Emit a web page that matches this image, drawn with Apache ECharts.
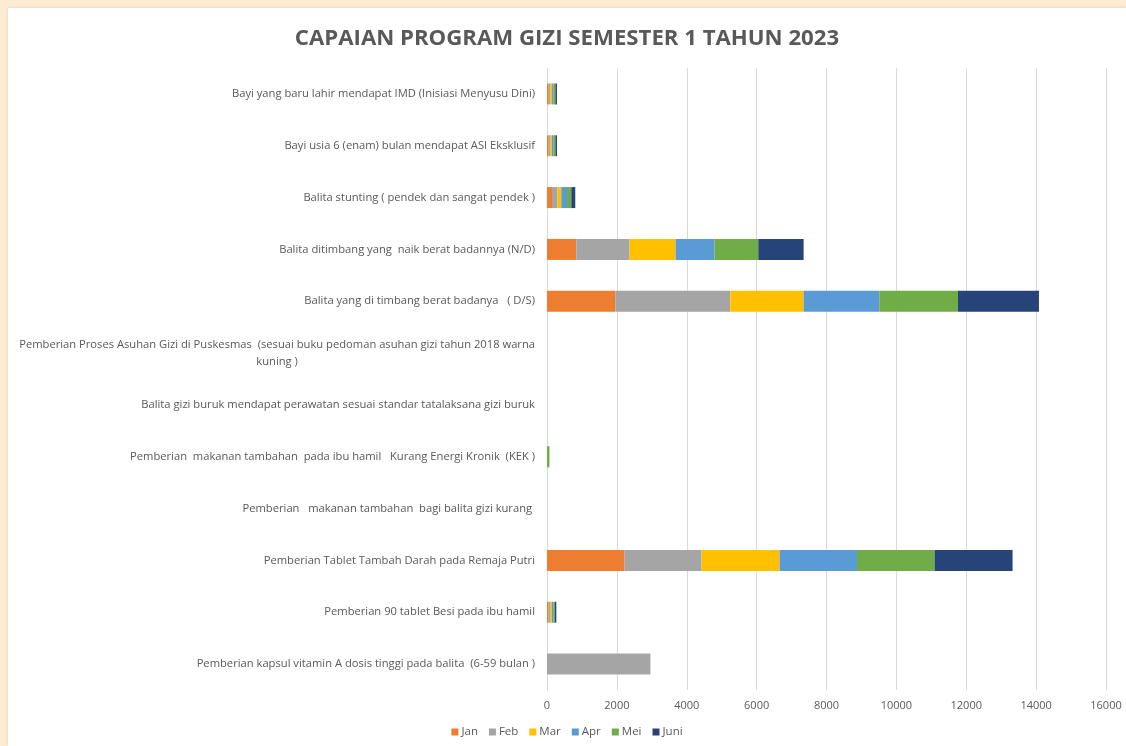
<!DOCTYPE html>
<html>
<head>
<meta charset="utf-8">
<script src="https://cdn.jsdelivr.net/npm/echarts@6/dist/echarts.min.js"></script>
<style>
  html, body { margin: 0; padding: 0; background: #fdecd3; }
  #chart {
    position: absolute;
    left: 8px;
    top: 8px;
    width: 1118px;
    height: 738px;
    background: #ffffff;
    box-shadow: 0 0 3px rgba(0, 0, 0, 0.12);
  }
</style>
</head>
<body>
<div id="chart"></div>
<script>
// kategori dari atas ke bawah
const categories = [
  'Bayi yang baru lahir mendapat IMD (Inisiasi Menyusu Dini)',
  'Bayi usia 6 (enam) bulan mendapat ASI Eksklusif',
  'Balita stunting ( pendek dan sangat pendek )',
  'Balita ditimbang yang  naik berat badannya (N/D)',
  'Balita yang di timbang berat badanya   ( D/S)',
  'Pemberian Proses Asuhan Gizi di Puskesmas  (sesuai buku pedoman asuhan gizi tahun 2018 warna\nkuning )',
  'Balita gizi buruk mendapat perawatan sesuai standar tatalaksana gizi buruk',
  'Pemberian  makanan tambahan  pada ibu hamil   Kurang Energi Kronik  (KEK )',
  'Pemberian   makanan tambahan  bagi balita gizi kurang ',
  'Pemberian Tablet Tambah Darah pada Remaja Putri',
  'Pemberian 90 tablet Besi pada ibu hamil',
  'Pemberian kapsul vitamin A dosis tinggi pada balita  (6-59 bulan )',
]

const months = ['Jan', 'Feb', 'Mar', 'Apr', 'Mei', 'Juni']

const jan  = [50, 48, 143, 838, 1955, 0, 0, 0, 0, 2221, 45, 0]
const feb  = [45, 50, 160, 1526, 3292, 0, 0, 0, 0, 2204, 45, 2960]
const mar  = [50, 45, 106, 1317, 2098, 0, 0, 0, 0, 2232, 45, 0]
const apr  = [45, 50, 163, 1116, 2166, 0, 0, 0, 0, 2215, 45, 0]
const mei  = [50, 48, 123, 1251, 2252, 0, 0, 70, 0, 2221, 45, 0]
const juni = [45, 45, 114, 1297, 2318, 0, 0, 0, 0, 2233, 42, 0]

const xTicks = [0, 2000, 4000, 6000, 8000, 10000, 12000, 14000, 16000]

const colors = ['#ed7d31', '#a5a5a5', '#ffc000', '#5b9bd5', '#70ad47', '#264478']
const seriesData = [jan, feb, mar, apr, mei, juni]

const chart = echarts.init(document.getElementById('chart'))

const labelFont = '"Open Sans", "Liberation Sans", sans-serif'

const option = {
  animation: false,
  title: {
    text: 'CAPAIAN PROGRAM GIZI SEMESTER 1 TAHUN 2023',
    left: 'center',
    top: 15,
    padding: [5, 5, 5, 13],
    textStyle: {
      color: '#595959',
      fontSize: 22.2,
      fontWeight: 'bold',
      fontFamily: labelFont,
    },
  },
  legend: {
    data: months,
    bottom: 3,
    left: 'center',
    itemWidth: 7,
    itemHeight: 7,
    itemGap: 11,
    icon: 'rect',
    textStyle: { color: '#595959', fontSize: 11.5, fontFamily: labelFont, padding: [0, 0, 0, -2] },
  },
  grid: {
    left: 539,
    right: 20,
    top: 60,
    bottom: 56,
  },
  xAxis: {
    type: 'value',
    min: xTicks[0],
    max: xTicks[xTicks.length - 1],
    interval: 2000,
    axisLine: { show: false },
    axisTick: { show: false },
    splitLine: { lineStyle: { color: '#d9d9d9', width: 1 } },
    axisLabel: {
      color: '#595959',
      fontSize: 11,
      fontFamily: labelFont,
      margin: 10,
      formatter: (value) => String(value),
    },
  },
  yAxis: {
    type: 'category',
    data: categories,
    inverse: true,
    axisLine: { show: true, lineStyle: { color: '#d9d9d9' } },
    axisTick: { show: false },
    axisLabel: {
      color: '#595959',
      fontSize: 11.2,
      fontFamily: labelFont,
      margin: 12,
      lineHeight: 17,
      formatter: (value) => {
        // label dua baris: baris kedua di tengah
        if (value.includes('\n')) {
          const parts = value.split('\n')
          return '{a|' + parts[0] + '}\n{b|' + parts[1] + '}'
        }
        return value
      },
      rich: {
        a: { color: '#595959', fontSize: 11.2, fontFamily: labelFont, lineHeight: 17 },
        b: { color: '#595959', fontSize: 11.2, fontFamily: labelFont, lineHeight: 17, width: 515, align: 'center' },
      },
    },
  },
  series: months.map((m, i) => ({
    name: m,
    type: 'bar',
    stack: 'total',
    barWidth: 21,
    data: seriesData[i],
    itemStyle: { color: colors[i] },
  })),
}

chart.setOption(option)
</script>
</body>
</html>
